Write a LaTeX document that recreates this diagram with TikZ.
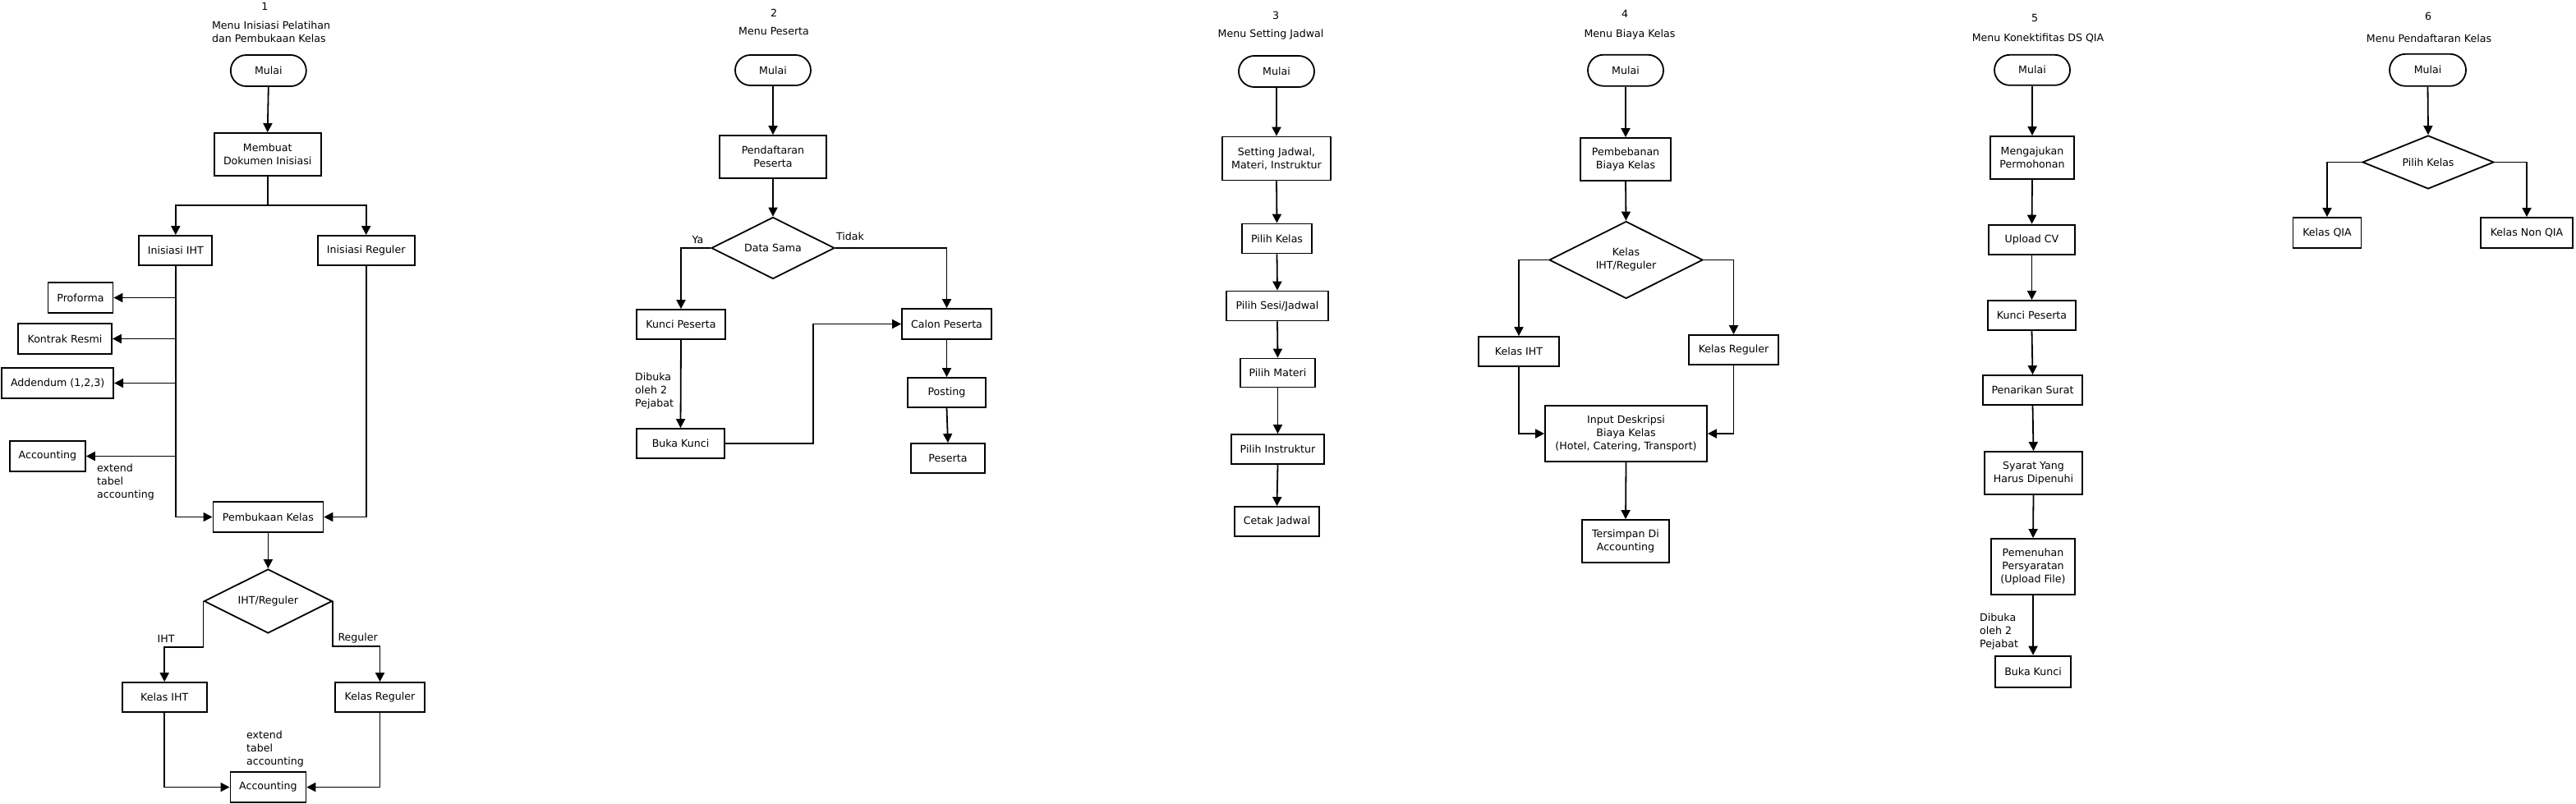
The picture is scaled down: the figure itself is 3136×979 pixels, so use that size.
\documentclass[tikz,border=0pt]{standalone}
\usepackage{fontspec}
\setmainfont{DejaVu Sans}
\usetikzlibrary{shapes.geometric,shapes.misc,arrows.meta}
\newcommand\fstwo{\fontsize{12.6}{16}\selectfont}
\begin{document}
\begin{tikzpicture}[x=1pt,y=-1pt, font=\fstwo,
 sz/.style 2 args={minimum width=#1pt, minimum height=#2pt},
 box/.style={draw, line width=1.8pt, rectangle, align=center, inner sep=1pt},
 term/.style={draw, line width=1.8pt, rounded rectangle, inner sep=1pt},
 dec/.style={draw, line width=1.8pt, diamond, align=center, inner sep=0pt, shape aspect=2},
 arr/.style={line width=1.8pt, -{Triangle[length=11pt,width=11pt]}},
 conn/.style={line width=1.8pt},
 lbl/.style={align=left, inner sep=0pt},
 ttl/.style={align=center, inner sep=0pt}]
\useasboundingbox[fill=white] (0,0) rectangle (3136,979);

% ---------- Section 1 ----------
\node[ttl] (n1) at (322.5,7.5) {1};
\node[lbl, anchor=west] (t1) at (257.9,39) {Menu Inisiasi Pelatihan\\dan Pembukaan Kelas};
\node[term, sz={94}{38}] (m1) at (326.8,86) {Mulai};
\node[box, sz={130}{52}] (mb1) at (325.7,188) {Membuat\\Dokumen Inisiasi};
\node[box, sz={89}{36}] (iiht) at (213.8,305) {Inisiasi IHT};
\node[box, sz={118}{36}] (ireg) at (445.7,305) {Inisiasi Reguler};
\node[box, sz={79}{37}] (prof) at (98,362.5) {Proforma};
\node[box, sz={114}{37}] (kontrak) at (79,412.5) {Kontrak Resmi};
\node[box, sz={136}{37}] (adden) at (70.2,466.5) {Addendum (1,2,3)};
\node[box, sz={92}{37}] (acc1) at (57.9,555.5) {Accounting};
\node[lbl, anchor=west] (ext1) at (117.9,587.5) {extend\\tabel\\accounting};
\node[box, sz={134}{37}] (pk) at (326.4,629.5) {Pembukaan Kelas};
\node[dec, sz={156}{78}] (d1) at (326.4,732) {IHT/Reguler};
\node[ttl] (liht) at (202,778) {IHT};
\node[ttl] (lreg) at (435.7,777) {Reguler};
\node[box, sz={103}{36}] (kiht) at (200.2,849) {Kelas IHT};
\node[box, sz={109}{36}] (kreg) at (462.5,849) {Kelas Reguler};
\node[box, sz={92}{37}] (acc2) at (326.4,958.5) {Accounting};
\node[lbl, anchor=west] (ext2) at (300,912) {extend\\tabel\\accounting};
\coordinate (s1) at (325.7,250);
\draw[arr] (m1.south) -- (mb1.north);
\draw[conn] (mb1.south) -- (s1);
\draw[arr] (s1) -| (iiht.north);
\draw[arr] (s1) -| (ireg.north);
\draw[arr] (iiht.south) |- (pk.west);
\draw[arr] (iiht.south |- prof.east) -- (prof.east);
\draw[arr] (iiht.south |- kontrak.east) -- (kontrak.east);
\draw[arr] (iiht.south |- adden.east) -- (adden.east);
\draw[arr] (iiht.south |- acc1.east) -- (acc1.east);
\draw[arr] (ireg.south) |- (pk.east);
\draw[arr] (pk.south) -- (d1.north);
\draw[arr] (d1.west) -- ++(0,56) -| (kiht.north);
\draw[arr] (d1.east) -- ++(0,55) -| (kreg.north);
\draw[arr] (kiht.south) |- (acc2.west);
\draw[arr] (kreg.south) |- (acc2.east);

% ---------- Section 2 ----------
\node[ttl] (n2) at (942,16) {2};
\node[ttl] (t2) at (942,37.5) {Menu Peserta};
\node[term, sz={94}{37}] (m2) at (941,85.5) {Mulai};
\node[box, sz={130}{52}] (pend) at (941,191) {Pendaftaran\\Peserta};
\node[dec, sz={150}{75}] (ds) at (941,302) {Data Sama};
\node[ttl] (lya) at (849.5,291.5) {Ya};
\node[ttl] (ltd) at (1035,288) {Tidak};
\node[box, sz={108}{36}] (kp2) at (829,395) {Kunci Peserta};
\node[box, sz={109}{37}] (cp2) at (1152.5,394.5) {Calon Peserta};
\node[lbl, anchor=west] (db2) at (773,476) {Dibuka\\oleh 2\\Pejabat};
\node[box, sz={107}{36}] (bk2) at (828.5,540) {Buka Kunci};
\node[box, sz={95}{36}] (post) at (1152.5,478) {Posting};
\node[box, sz={90}{36}] (pes) at (1154,558) {Peserta};
\draw[arr] (m2.south) -- (pend.north);
\draw[arr] (pend.south) -- (ds.north);
\draw[arr] (ds.west) -| (kp2.north);
\draw[arr] (ds.east) -| (cp2.north);
\draw[arr] (kp2.south) -- (bk2.north);
\draw[arr] (bk2.east) -- ++(107,0) |- (cp2.west);
\draw[arr] (cp2.south) -- (post.north);
\draw[arr] (post.south) -- (pes.north);

% ---------- Section 3 ----------
\node[ttl] (n3) at (1553,19) {3};
\node[ttl] (t3) at (1547,41.6) {Menu Setting Jadwal};
\node[term, sz={94}{38}] (m3) at (1554,87) {Mulai};
\node[box, sz={132}{53}] (sj) at (1554,193) {Setting Jadwal,\\Materi, Instruktur};
\node[box, sz={85}{36}] (pkls) at (1554.5,290.5) {Pilih Kelas};
\node[box, sz={124}{36}] (psj) at (1555,372.5) {Pilih Sesi/Jadwal};
\node[box, sz={91}{35}] (pm) at (1555.5,454) {Pilih Materi};
\node[box, sz={113}{36}] (pi) at (1555.5,547) {Pilih Instruktur};
\node[box, sz={103}{36}] (cj) at (1554.5,635) {Cetak Jadwal};
\draw[arr] (m3.south) -- (sj.north);
\draw[arr] (sj.south) -- (pkls.north);
\draw[arr] (pkls.south) -- (psj.north);
\draw[arr] (psj.south) -- (pm.north);
\draw[arr] (pm.south) -- (pi.north);
\draw[arr] (pi.south) -- (cj.north);

% ---------- Section 4 ----------
\node[ttl] (n4) at (1978,17) {4};
\node[ttl] (t4) at (1984,42) {Menu Biaya Kelas};
\node[term, sz={94}{38}] (m4) at (1979,85.7) {Mulai};
\node[box, sz={110}{52}] (pbk) at (1979,194) {Pembebanan\\Biaya Kelas};
\node[dec, sz={187}{94}] (d4) at (1979.5,316.5) {Kelas\\IHT/Reguler};
\node[box, sz={98}{36}] (kiht4) at (1849,428) {Kelas IHT};
\node[box, sz={109}{36}] (kreg4) at (2110.5,426) {Kelas Reguler};
\node[box, sz={197}{68}] (inp) at (1979.5,528) {Input Deskripsi\\Biaya Kelas\\(Hotel, Catering, Transport)};
\node[box, sz={106}{52}] (ts) at (1979,659) {Tersimpan Di\\Accounting};
\draw[arr] (m4.south) -- (pbk.north);
\draw[arr] (pbk.south) -- (d4.north);
\draw[arr] (d4.west) -| (kiht4.north);
\draw[arr] (d4.east) -| (kreg4.north);
\draw[arr] (kiht4.south) |- (inp.west);
\draw[arr] (kreg4.south) |- (inp.east);
\draw[arr] (inp.south) -- (ts.north);

% ---------- Section 5 ----------
\node[ttl] (n5) at (2477,21.7) {5};
\node[ttl] (t5) at (2481,47) {Menu Konektifitas DS QIA};
\node[term, sz={94}{37}] (m5) at (2474,85.3) {Mulai};
\node[box, sz={102}{52}] (mp) at (2474,192) {Mengajukan\\Permohonan};
\node[box, sz={105}{36}] (ucv) at (2473.5,291.6) {Upload CV};
\node[box, sz={107}{36}] (kp5) at (2473.5,384) {Kunci Peserta};
\node[box, sz={121}{36}] (ps) at (2474.5,475) {Penarikan Surat};
\node[box, sz={119}{52}] (syr) at (2475.5,576) {Syarat Yang\\Harus Dipenuhi};
\node[box, sz={102}{68}] (pmn) at (2475,690) {Pemenuhan\\Persyaratan\\(Upload File)};
\node[lbl, anchor=west] (db5) at (2410,769.5) {Dibuka\\oleh 2\\Pejabat};
\node[box, sz={92}{38}] (bk5) at (2475,817.6) {Buka Kunci};
\draw[arr] (m5.south) -- (mp.north);
\draw[arr] (mp.south) -- (ucv.north);
\draw[arr] (ucv.south) -- (kp5.north);
\draw[arr] (kp5.south) -- (ps.north);
\draw[arr] (ps.south) -- (syr.north);
\draw[arr] (syr.south) -- (pmn.north);
\draw[arr] (pmn.south) -- (bk5.north);

% ---------- Section 6 ----------
\node[ttl] (n6) at (2956,20) {6};
\node[ttl] (t6) at (2957,47) {Menu Pendaftaran Kelas};
\node[term, sz={95}{39}] (m6) at (2955.5,85.3) {Mulai};
\node[dec, sz={160}{65}] (d6) at (2956,197.5) {Pilih Kelas};
\node[box, sz={83}{37}] (kqia) at (2833,283.5) {Kelas QIA};
\node[box, sz={112}{37}] (knon) at (3076,283.5) {Kelas Non QIA};
\draw[arr] (m6.south) -- (d6.north);
\draw[arr] (d6.west) -| (kqia.north);
\draw[arr] (d6.east) -| (knon.north);
\end{tikzpicture}
\end{document}
